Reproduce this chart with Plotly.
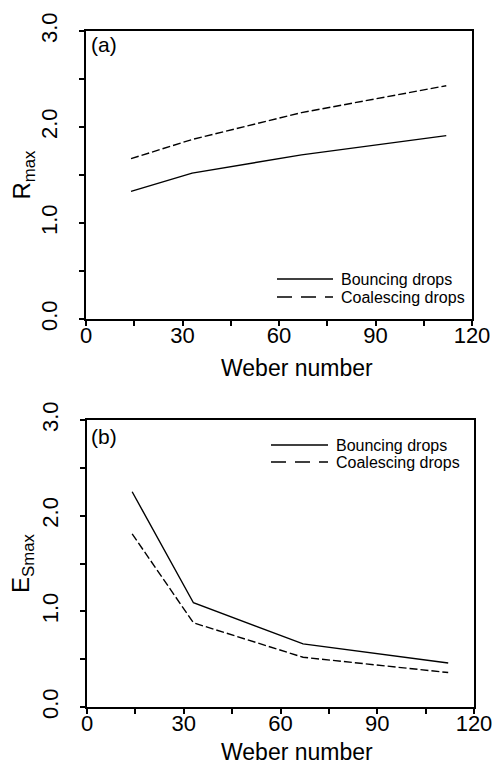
import plotly.graph_objects as go

# Measurements at four Weber numbers
weber = [14, 33, 67, 112]
r_bouncing = [1.33, 1.52, 1.71, 1.91]
r_coalescing = [1.67, 1.87, 2.15, 2.43]
es_bouncing = [2.25, 1.09, 0.66, 0.46]
es_coalescing = [1.81, 0.88, 0.52, 0.36]

series_names = ["Bouncing drops", "Coalescing drops"]
panel_labels = ["(a)", "(b)"]
x_title = "Weber number"
x_ticks = [0, 30, 60, 90, 120]
y_ticks = [0.0, 1.0, 2.0, 3.0]
y_tick_labels = ["0.0", "1.0", "2.0", "3.0"]

W, H = 504, 767
FONT = "Liberation Sans, Arial, Helvetica, sans-serif"


def px_x(p):
    return p / W


def px_y(p):
    return 1 - p / H


fig = go.Figure()

line_solid = dict(color="black", width=1.4)
line_dash = dict(color="black", width=1.4, dash="8px,3px")

fig.add_trace(go.Scatter(x=weber, y=r_bouncing, mode="lines", line=line_solid,
                         xaxis="x", yaxis="y", showlegend=False))
fig.add_trace(go.Scatter(x=weber, y=r_coalescing, mode="lines", line=line_dash,
                         xaxis="x", yaxis="y", showlegend=False))
fig.add_trace(go.Scatter(x=weber, y=es_bouncing, mode="lines", line=line_solid,
                         xaxis="x2", yaxis="y2", showlegend=False))
fig.add_trace(go.Scatter(x=weber, y=es_coalescing, mode="lines", line=line_dash,
                         xaxis="x2", yaxis="y2", showlegend=False))

common_x = dict(
    range=[0, 120], tickvals=x_ticks, ticks="outside", ticklen=5, tickwidth=1.5,
    tickcolor="black", showline=True, linewidth=2, linecolor="black", mirror=True,
    showgrid=False, zeroline=False, automargin=False,
    minor=dict(dtick=15, tick0=0, ticks="outside", ticklen=5, tickwidth=1.5,
               tickcolor="black", showgrid=False),
    tickfont=dict(family=FONT, size=22, color="black"),
    ticklabelstandoff=-9,
)
common_y = dict(
    range=[0, 3], tickvals=y_ticks, ticktext=y_tick_labels, tickangle=-90,
    ticks="outside", ticklen=5, tickwidth=1.5, tickcolor="black",
    showline=True, linewidth=2, linecolor="black", mirror=True,
    showgrid=False, zeroline=False, automargin=False,
    minor=dict(dtick=0.5, tick0=0, ticks="outside", ticklen=5, tickwidth=1.5,
               tickcolor="black", showgrid=False),
    tickfont=dict(family=FONT, size=22, color="black"),
    ticklabelstandoff=13,
)

fig.update_layout(
    width=W, height=H,
    margin=dict(l=0, r=0, t=0, b=0, autoexpand=False),
    paper_bgcolor="white", plot_bgcolor="white",
    showlegend=False,
    xaxis=dict(common_x, domain=[px_x(86), px_x(472)], anchor="y"),
    yaxis=dict(common_y, domain=[px_y(319), px_y(31)], anchor="x",
               title=dict(text="R<sub>max</sub>",
                          font=dict(family=FONT, size=24, color="black"), standoff=0)),
    xaxis2=dict(common_x, domain=[px_x(87), px_x(474)], anchor="y2"),
    yaxis2=dict(common_y, domain=[px_y(707), px_y(420)], anchor="x2",
                title=dict(text="E<sub>Smax</sub>",
                           font=dict(family=FONT, size=24, color="black"), standoff=0)),
)

# x-axis titles, placed under each panel
fig.add_annotation(text=x_title, xref="paper", yref="paper",
                   x=px_x(297), y=px_y(368), xanchor="center", yanchor="middle",
                   showarrow=False, font=dict(family=FONT, size=23, color="black"))
fig.add_annotation(text=x_title, xref="paper", yref="paper",
                   x=px_x(297), y=0, xanchor="center", yanchor="bottom",
                   showarrow=False, font=dict(family=FONT, size=23, color="black"))

# Legend keys (line sample + label) for each panel
legend_layout = [
    # (line x0, line x1, text x, y of first row, y of second row)
    (277, 333, 339, 279, 297),
    (271, 328, 334, 445, 462),
]
for (lx0, lx1, tx, y1, y2) in legend_layout:
    for name, yy, dash in [(series_names[0], y1, "solid"), (series_names[1], y2, "15px,9px")]:
        fig.add_shape(type="line", xref="paper", yref="paper",
                      x0=px_x(lx0), x1=px_x(lx1), y0=px_y(yy), y1=px_y(yy),
                      line=dict(color="black", width=1.4, dash=dash))
        fig.add_annotation(text=name, xref="paper", yref="paper",
                           x=px_x(tx), y=px_y(yy), xanchor="left", yanchor="middle",
                           showarrow=False,
                           font=dict(family=FONT, size=16, color="black"))

# Panel labels
for label, yy in zip(panel_labels, [44, 436]):
    fig.add_annotation(text=label, xref="paper", yref="paper",
                       x=px_x(89), y=px_y(yy), xanchor="left", yanchor="middle",
                       showarrow=False, font=dict(family=FONT, size=21, color="black"))

fig.write_html("out.html")
